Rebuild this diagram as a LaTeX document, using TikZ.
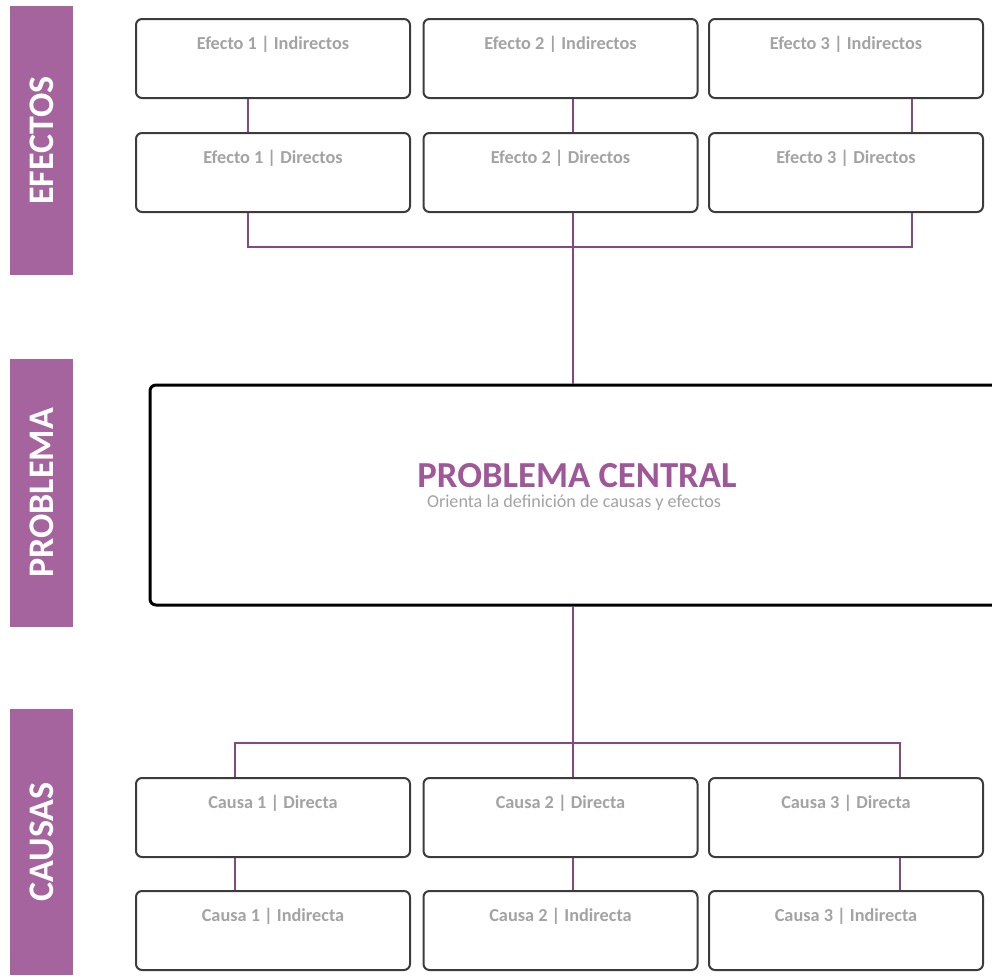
\documentclass[tikz,border=0pt]{standalone}
\usepackage{fontspec}
\setmainfont{Carlito}
\definecolor{barpurple}{HTML}{A6649E}
\definecolor{titlepurple}{HTML}{A0579A}
\definecolor{linkpurple}{HTML}{87477F}
\definecolor{boxgray}{HTML}{A3A3A3}
\definecolor{edgegray}{HTML}{3C3C3C}
\tikzset{
  efbox/.style={draw=edgegray,line width=1.5pt,rounded corners=4.5pt,fill=white,
    minimum width=205.5pt,inner sep=0pt,text height=22.5pt,text depth=36.75pt,
    font=\fontsize{13.7}{16}\selectfont\bfseries,text=boxgray},
  probbox/.style={draw=black,line width=2.25pt,rounded corners=4.5pt,fill=white,
    minimum width=637.5pt,minimum height=165pt,inner sep=0pt},
  sidebar/.style={fill=barpurple,rotate=90,minimum height=47.25pt,inner sep=0pt,
    text=white,font=\fontsize{27}{30}\selectfont\bfseries},
  link/.style={draw=linkpurple,line width=1.1pt}
}

\begin{document}
\begin{tikzpicture}[x=0.75pt,y=-0.75pt]
\useasboundingbox (0,0) rectangle (992,975);

\node[sidebar,minimum width=201.75pt] (efectos) at (41.5,140.5) {EFECTOS};
\node[sidebar,minimum width=201pt] (problema) at (41.5,493) {PROBLEMA};
\node[sidebar,minimum width=199.5pt] (causas) at (41.5,842) {CAUSAS};

\node[efbox] (e1i) at (273,58.5) {Efecto 1 | Indirectos};
\node[efbox] (e2i) at (560.5,58.5) {Efecto 2 | Indirectos};
\node[efbox] (e3i) at (846,58.5) {Efecto 3 | Indirectos};
\node[efbox] (e1d) at (273,172.5) {Efecto 1 | Directos};
\node[efbox] (e2d) at (560.5,172.5) {Efecto 2 | Directos};
\node[efbox] (e3d) at (846,172.5) {Efecto 3 | Directos};

\node[probbox] (prob) at (575,495) {};
\node[anchor=base,inner sep=0pt,text=titlepurple,font=\fontsize{27.5}{30}\selectfont\bfseries] (ptitle) at (577,487) {PROBLEMA CENTRAL};
\node[anchor=base,inner sep=0pt,text=boxgray,font=\fontsize{13.6}{15}\selectfont] (psub) at (574,507) {Orienta la definición de causas y efectos};

\node[efbox] (c1d) at (273,817.5) {Causa 1 | Directa};
\node[efbox] (c2d) at (560.5,817.5) {Causa 2 | Directa};
\node[efbox] (c3d) at (846,817.5) {Causa 3 | Directa};
\node[efbox] (c1i) at (273,930.5) {Causa 1 | Indirecta};
\node[efbox] (c2i) at (560.5,930.5) {Causa 2 | Indirecta};
\node[efbox] (c3i) at (846,930.5) {Causa 3 | Indirecta};

\coordinate (busE) at (573,247);
\coordinate (busC) at (573,743);

\draw[link] ([xshift=-18.75pt]e1i.south) -- ([xshift=-18.75pt]e1d.north);
\draw[link] ([xshift=9.375pt]e2i.south) -- ([xshift=9.375pt]e2d.north);
\draw[link] ([xshift=49.5pt]e3i.south) -- ([xshift=49.5pt]e3d.north);
\draw[link] ([xshift=-18.75pt]e1d.south) |- (busE) -| ([xshift=49.5pt]e3d.south);
\draw[link] ([xshift=9.375pt]e2d.south) -- (busE |- prob.north);

\draw[link] (busE |- prob.south) -- ([xshift=9.375pt]c2d.north);
\draw[link] ([xshift=-28.5pt]c1d.north) |- (busC) -| ([xshift=40.5pt]c3d.north);
\draw[link] ([xshift=-28.5pt]c1d.south) -- ([xshift=-28.5pt]c1i.north);
\draw[link] ([xshift=9.375pt]c2d.south) -- ([xshift=9.375pt]c2i.north);
\draw[link] ([xshift=40.5pt]c3d.south) -- ([xshift=40.5pt]c3i.north);

\end{tikzpicture}
\end{document}
